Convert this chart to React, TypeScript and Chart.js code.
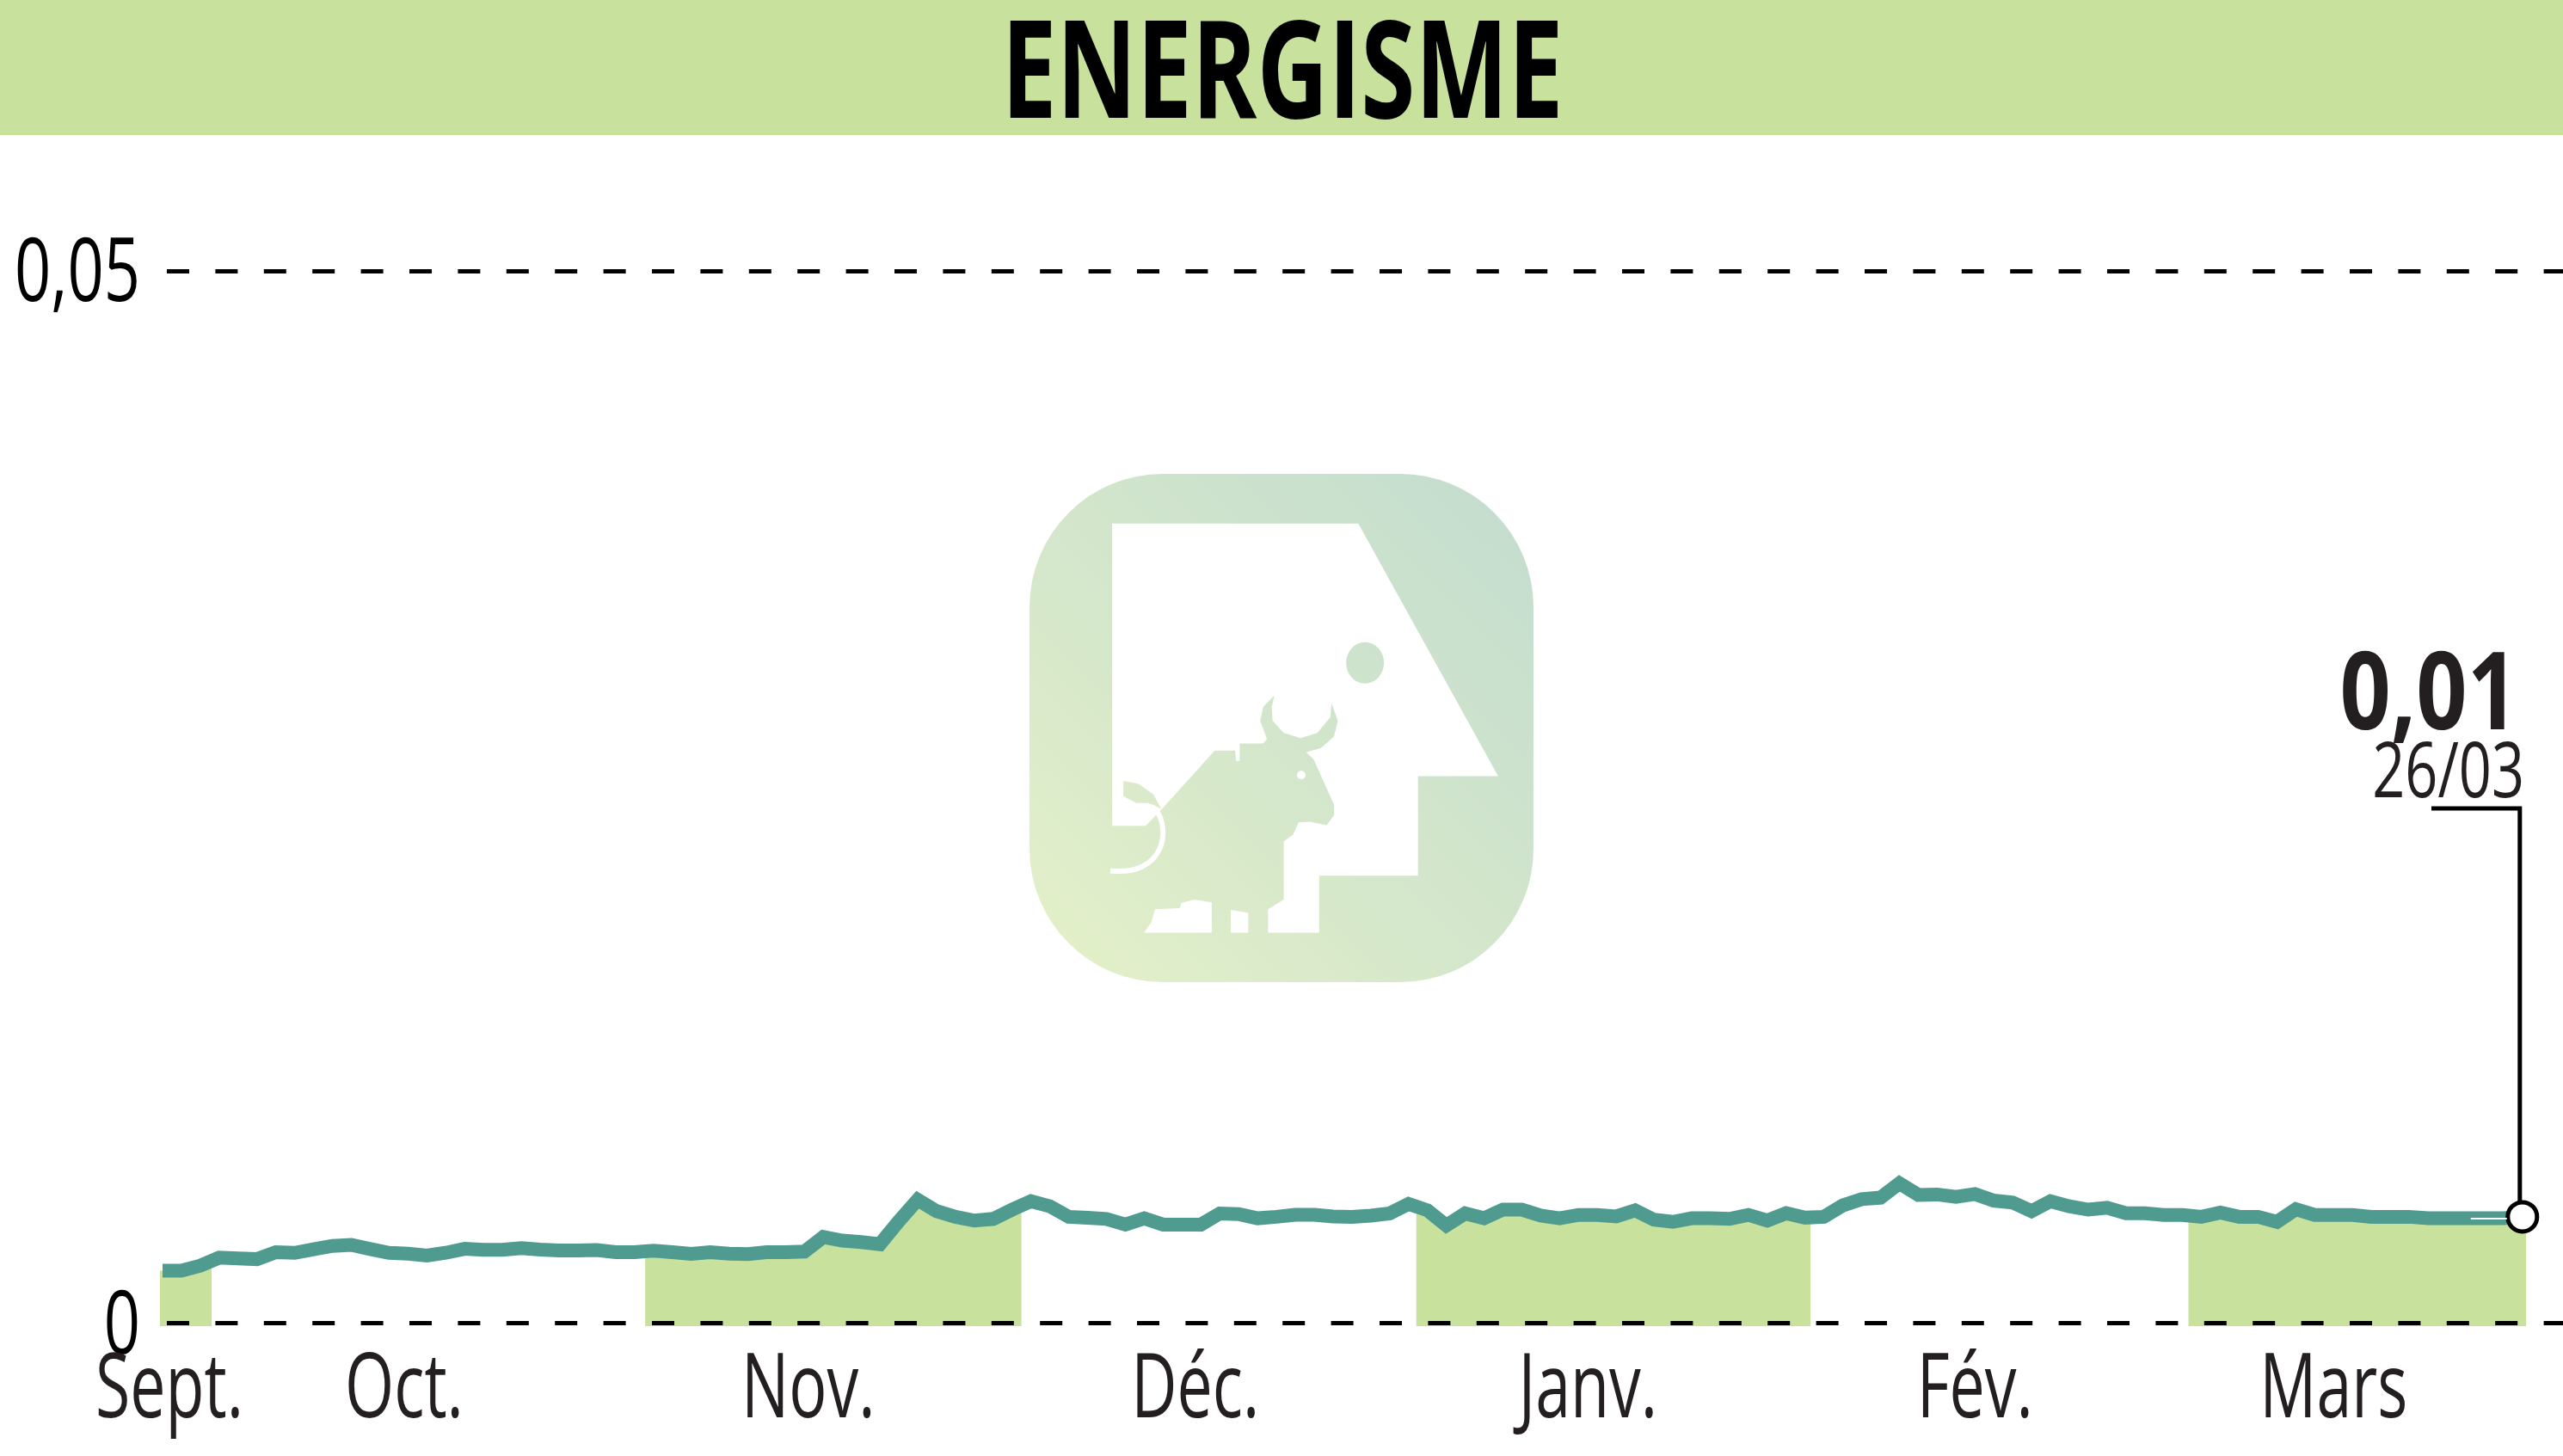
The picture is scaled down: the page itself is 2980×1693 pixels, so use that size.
import { useEffect, useRef } from "react";
import { Chart, registerables } from "chart.js";

Chart.register(...registerables);

const title = "ENERGISME";
const lastValueLabel = "0,01";
const lastDateLabel = "26/03";

// one closing price per trading day, 03 Sept. -> 26/03
const prices = [
  0.00251, 0.00251, 0.00275, 0.00313, 0.00309, 0.00306, 0.00339, 0.00336, 0.00353, 0.00369,
  0.00374, 0.00354, 0.00336, 0.00332, 0.00323, 0.00336, 0.00355, 0.0035, 0.0035, 0.00358,
  0.00351, 0.00347, 0.00347, 0.00349, 0.00339, 0.00339, 0.00346, 0.00339, 0.00331, 0.00339,
  0.00332, 0.0033, 0.00339, 0.00339, 0.00342, 0.00411, 0.00394, 0.00387, 0.00377, 0.00486,
  0.00588, 0.00534, 0.00507, 0.00489, 0.00497, 0.00541, 0.00581, 0.00557, 0.00507, 0.00502,
  0.00497, 0.0047, 0.005, 0.0047, 0.0047, 0.0047, 0.00523, 0.0052, 0.005, 0.00507,
  0.00517, 0.00517, 0.00509, 0.00507, 0.00513, 0.00523, 0.00568, 0.00538, 0.00466, 0.00523,
  0.005, 0.00541, 0.00541, 0.00513, 0.005, 0.00516, 0.00516, 0.00509, 0.00538, 0.00493,
  0.00483, 0.005, 0.005, 0.00497, 0.00516, 0.00489, 0.00524, 0.00503, 0.00507, 0.00561,
  0.00591, 0.00598, 0.00666, 0.00611, 0.00613, 0.00602, 0.00615, 0.00584, 0.00575, 0.00534,
  0.00581, 0.00557, 0.00541, 0.0055, 0.00524, 0.00524, 0.00516, 0.00516, 0.00507, 0.00527,
  0.00507, 0.00507, 0.00483, 0.00543, 0.00516, 0.00516, 0.00516, 0.00507, 0.00507, 0.00507,
  0.005, 0.005, 0.005, 0.005, 0.005, 0.00507,
];

const monthLabels = ["Sept.", "Oct.", "Nov.", "Déc.", "Janv.", "Fév.", "Mars"];
// where each month name sits, in trading days
const monthLabelDays = [0.36, 12.8, 34.2, 54.7, 75.5, 96, 115];
// shaded months as [from, to], in trading days (Sept., Nov., Janv., Mars)
const shadedFrom = [-0.5, 25.56, 66.4, 107.3];
const shadedTo = [2.6, 45.5, 87.3, 125.2];

const yTicks = [0, 0.05];
const yTickLabels = ["0", "0,05"];

const GREEN = "#c8e29d";
const TEAL = "#4f9b8f";
const FONT = '"Open Sans"';

const WIDTH = 2980;
const HEIGHT = 1693;

// the shaded months, each one closed with a null so the fill stops there
function buildBands() {
  const points: { x: number; y: number | null }[] = [];
  shadedFrom.forEach((from, b) => {
    const to = shadedTo[b];
    const first = Math.ceil(from);
    const last = Math.floor(to);
    points.push({ x: from, y: prices[first] });
    for (let i = first; i <= last; i++) points.push({ x: i, y: prices[i] });
    points.push({ x: to, y: prices[last] });
    points.push({ x: to, y: null });
  });
  return points;
}

function narrowText(ctx, text, x, y, font, squeeze, align = "center", color = "#000") {
  ctx.save();
  ctx.translate(x, y);
  ctx.scale(squeeze, 1);
  ctx.font = font;
  ctx.fillStyle = color;
  ctx.textAlign = align;
  ctx.textBaseline = "alphabetic";
  ctx.fillText(text, 0, 0);
  ctx.restore();
}

// the watermark
function drawLogo(ctx) {
  const px = (x) => 1150 + x / 2.306;
  const py = (y) => 520 + y / 2.453;
  const poly = (pts) => {
    ctx.beginPath();
    pts.forEach(([x, y], i) => (i ? ctx.lineTo(px(x), py(y)) : ctx.moveTo(px(x), py(y))));
    ctx.closePath();
    ctx.fill();
  };
  const gradient = ctx.createLinearGradient(1197, 1142, 1783, 551);
  gradient.addColorStop(0, "#e4f0c8");
  gradient.addColorStop(1, "#c2dccf");

  ctx.save();
  ctx.fillStyle = gradient;
  ctx.beginPath();
  ctx.roundRect(1197, 551, 586, 591, 155);
  ctx.fill();

  ctx.fillStyle = "#fff";
  poly([
    [330, 218], [990, 218], [1365, 938], [1150, 938], [1150, 1222], [885, 1222], [885, 1385],
    [748, 1385], [748, 1318], [790, 1290], [790, 1125], [815, 1105], [830, 1070], [860, 1068],
    [905, 1078], [925, 1050], [925, 1020], [870, 890], [850, 870], [890, 858], [925, 825],
    [935, 780], [918, 730], [915, 770], [880, 815], [835, 830], [790, 815], [760, 780],
    [758, 740], [765, 708], [735, 740], [727, 780], [745, 832], [735, 845], [672, 845],
    [672, 895], [662, 895], [660, 865], [605, 865], [465, 1030], [420, 1080], [330, 1080],
  ]);
  poly([
    [445, 1318], [512, 1315], [515, 1300], [550, 1290], [597, 1298], [597, 1385], [415, 1385],
    [435, 1355],
  ]);
  poly([[648, 1320], [695, 1328], [695, 1385], [648, 1385]]);

  ctx.beginPath();
  ctx.ellipse(px(837), py(935), 5, 5, 0, 0, Math.PI * 2);
  ctx.fill();

  // tail
  ctx.strokeStyle = "#fff";
  ctx.lineWidth = 6;
  ctx.beginPath();
  ctx.moveTo(px(445), py(1030));
  ctx.bezierCurveTo(px(490), py(1090), px(470), py(1225), px(325), py(1208));
  ctx.stroke();

  ctx.fillStyle = gradient;
  poly([
    [360, 952], [400, 960], [440, 990], [462, 1032], [440, 1020], [425, 1015], [395, 1015],
    [360, 995],
  ]);
  ctx.beginPath();
  ctx.ellipse(px(1008), py(615), 22, 24, 0, 0, Math.PI * 2);
  ctx.fill();
  ctx.restore();
}

const chromePlugin = {
  id: "chrome",
  beforeDraw(chart) {
    const { ctx } = chart;
    ctx.save();
    ctx.fillStyle = "#fff";
    ctx.fillRect(0, 0, WIDTH, HEIGHT);
    ctx.fillStyle = GREEN;
    ctx.fillRect(0, 0, WIDTH, 157);
    ctx.restore();
    drawLogo(ctx);
  },
  beforeDatasetsDraw(chart) {
    // leader from the date label down to the last point
    const { ctx, scales } = chart;
    const lastX = scales.x.getPixelForValue(prices.length - 1) - 3;
    const lastY = scales.y.getPixelForValue(prices[prices.length - 1]);
    ctx.save();
    ctx.strokeStyle = "#000";
    ctx.lineWidth = 5;
    ctx.beginPath();
    ctx.moveTo(2827, 940);
    ctx.lineTo(lastX, 940);
    ctx.lineTo(lastX, lastY);
    ctx.stroke();
    ctx.restore();
  },
  afterDatasetsDraw(chart) {
    // thin white hairline inside the last stretch of the curve
    const { ctx, scales } = chart;
    const lastX = scales.x.getPixelForValue(prices.length - 1);
    const lastY = scales.y.getPixelForValue(prices[prices.length - 1]);
    ctx.save();
    ctx.strokeStyle = "#fff";
    ctx.lineWidth = 2;
    ctx.beginPath();
    ctx.moveTo(lastX - 60, lastY + 2);
    ctx.lineTo(lastX - 18, lastY + 2);
    ctx.stroke();
    ctx.restore();
  },
  afterDraw(chart) {
    const { ctx, scales } = chart;
    narrowText(ctx, title, 1491, 137, `700 158px ${FONT}`, 0.725);

    scales.y.ticks.forEach((tick, i) => {
      const y = scales.y.getPixelForTick(i);
      narrowText(ctx, tick.label, 163, y + 35, `400 102px ${FONT}`, 0.725, "right");
    });
    scales.x.ticks.forEach((tick, i) => {
      const x = scales.x.getPixelForTick(i);
      narrowText(ctx, tick.label, x, 1648, `400 105px ${FONT}`, 0.7, "center", "#231f20");
    });

    narrowText(ctx, lastValueLabel, 2928, 848, `700 125px ${FONT}`, 0.83, "right", "#231f20");
    narrowText(ctx, lastDateLabel, 2935, 927, `400 90px ${FONT}`, 0.74, "right", "#231f20");
  },
};

export default function App() {
  const canvasRef = useRef<HTMLCanvasElement | null>(null);

  useEffect(() => {
    document.body.style.margin = "0";
    const chart = new Chart(canvasRef.current, {
      type: "line",
      plugins: [chromePlugin],
      data: {
        datasets: [
          {
            data: prices.map((y, x) => ({ x, y })),
            borderColor: TEAL,
            borderWidth: 16,
            borderCapStyle: "butt",
            borderJoinStyle: "miter",
            tension: 0,
            fill: false,
            pointRadius: (c) => (c.dataIndex === prices.length - 1 ? 17 : 0),
            pointBackgroundColor: "#fff",
            pointBorderColor: "#000",
            pointBorderWidth: 5,
          },
          {
            data: buildBands(),
            borderWidth: 0,
            borderColor: GREEN,
            backgroundColor: GREEN,
            pointRadius: 0,
            tension: 0,
            spanGaps: false,
            fill: "start",
          },
        ],
      },
      options: {
        responsive: false,
        animation: false,
        devicePixelRatio: 1,
        events: [],
        layout: { autoPadding: false, padding: { left: 186, right: 0, top: 315, bottom: 151 } },
        plugins: { legend: { display: false }, tooltip: { enabled: false } },
        scales: {
          x: {
            type: "linear",
            min: -0.137,
            max: 127.15,
            afterBuildTicks: (axis) => {
              axis.ticks = monthLabelDays.map((value) => ({ value }));
            },
            ticks: {
              display: false,
              callback: (value) => monthLabels[monthLabelDays.indexOf(value)],
            },
            grid: { display: false, drawTicks: false },
            border: { display: false },
          },
          y: {
            min: -0.000123,
            max: 0.05,
            afterBuildTicks: (axis) => {
              axis.ticks = yTicks.map((value) => ({ value }));
            },
            ticks: {
              display: false,
              callback: (value) => yTickLabels[yTicks.indexOf(value)],
            },
            grid: {
              color: "#000",
              lineWidth: 5,
              drawTicks: false,
              z: 1,
              tickBorderDash: [],
            },
            border: { display: false, dash: [26, 30.4], dashOffset: 48.4 },
          },
        },
      },
    });

    return () => chart.destroy();
  }, []);

  return <canvas ref={canvasRef} width={WIDTH} height={HEIGHT} style={{ display: "block" }} />;
}
